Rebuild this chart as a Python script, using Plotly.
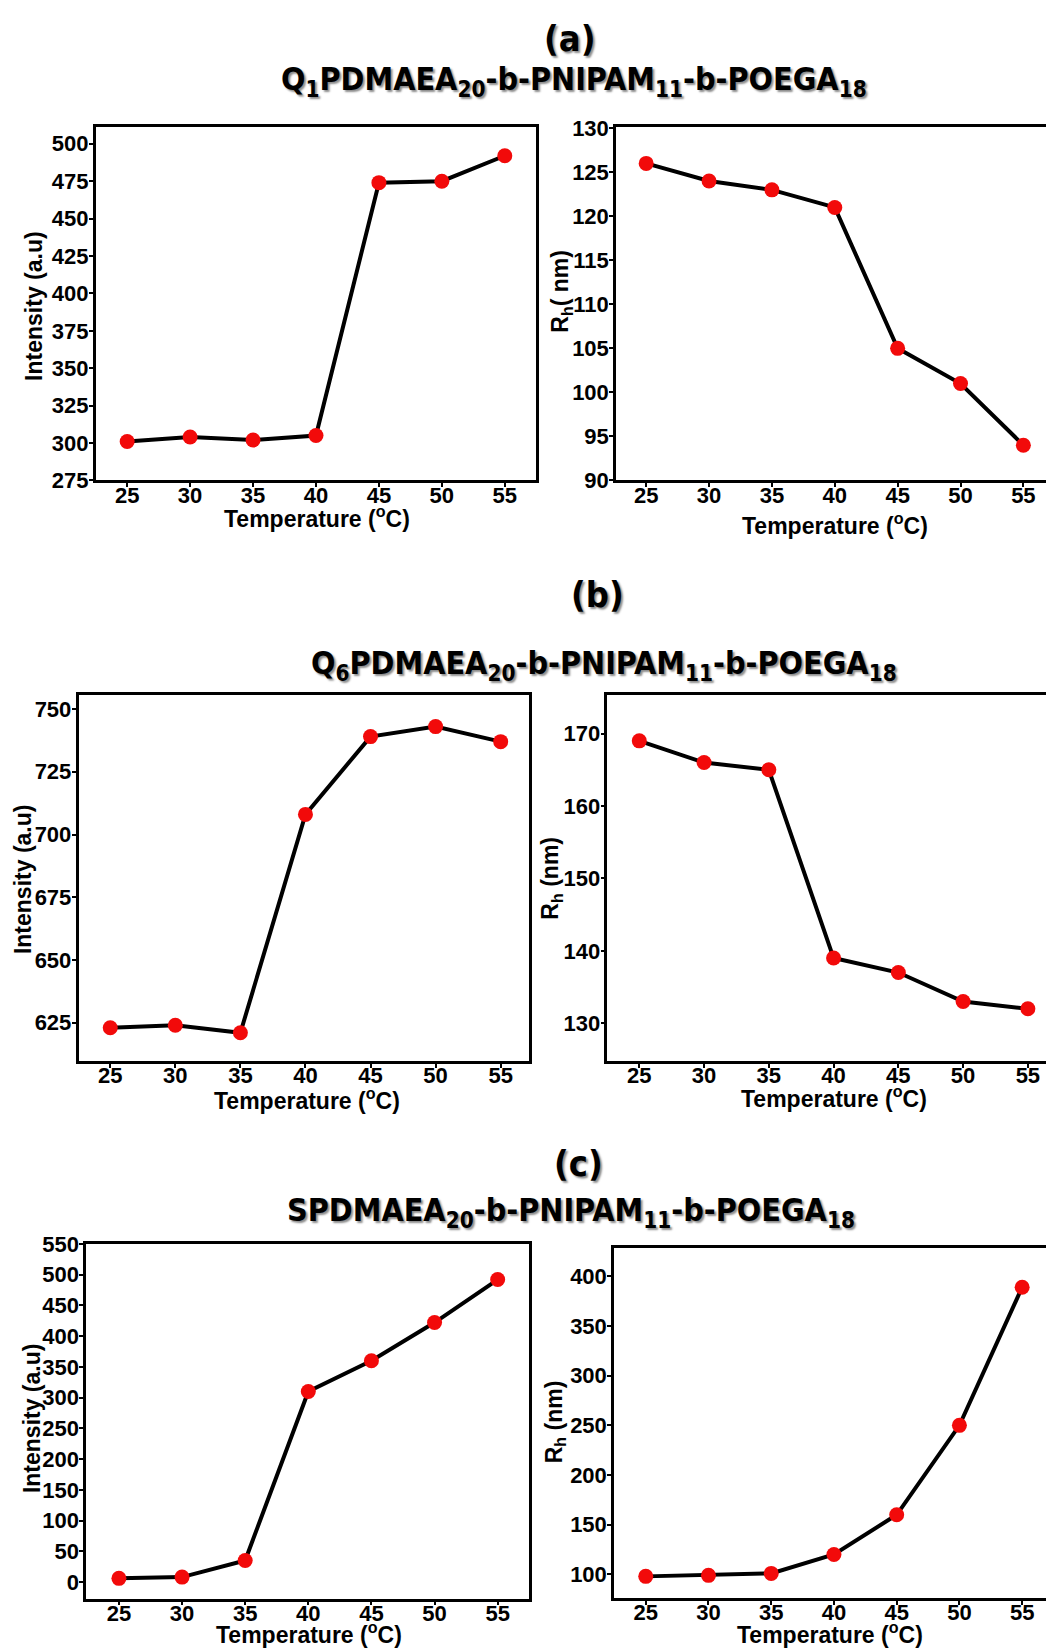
import plotly.graph_objects as go

temperature = [25, 30, 35, 40, 45, 50, 55]

q1_intensity = [301, 304, 302, 305, 474, 475, 492]
q1_rh = [126, 124, 123, 121, 105, 101, 94]
q6_intensity = [623, 624, 621, 708, 739, 743, 737]
q6_rh = [169, 166, 165, 139, 137, 133, 132]
s_intensity = [6, 8, 35, 310, 360, 422, 492]
s_rh = [98, 99, 101, 120, 160, 250, 389]

panel_letters = ["(a)", "(b)", "(c)"]
panel_titles = [
    "Q<sub>1</sub>PDMAEA<sub>20</sub>-b-PNIPAM<sub>11</sub>-b-POEGA<sub>18</sub>",
    "Q<sub>6</sub>PDMAEA<sub>20</sub>-b-PNIPAM<sub>11</sub>-b-POEGA<sub>18</sub>",
    "SPDMAEA<sub>20</sub>-b-PNIPAM<sub>11</sub>-b-POEGA<sub>18</sub>",
]
x_title = "Temperature (<sup>o</sup>C)"
y_titles = ["Intensity (a.u)", "R<sub>h</sub>( nm)", "Intensity (a.u)", "R<sub>h</sub> (nm)",
            "Intensity (a.u)", "R<sub>h</sub> (nm)"]

W, H = 1046, 1652

def px(x):
    return x / W

def py(y):
    return 1 - y / H

series = [q1_intensity, q1_rh, q6_intensity, q6_rh, s_intensity, s_rh]
# plot box in pixels: left, top, right, bottom
boxes = [
    (95.7, 117.1, 535.5, 475.6),
    (616, 117.1, 1046, 475.6),
    (78.5, 693.7, 529.3, 1065.0),
    (607.3, 693.7, 1046, 1065.0),
    (86.1, 1250.8, 528.6, 1611.0),
    (614, 1255.2, 1046, 1610.3),
]
xranges = [[22.5, 57.44], [22.6, 56.8], [22.56, 57.2], [22.53, 56.4], [22.4, 57.45], [22.47, 56.9]]
yranges = [[275, 511], [90, 130.1], [609.8, 755.5], [124.8, 175.3], [-27, 550], [76.3, 428.3]]
ytickvals = [
    list(range(275, 501, 25)),
    list(range(90, 131, 5)),
    list(range(625, 751, 25)),
    list(range(130, 171, 10)),
    list(range(0, 551, 50)),
    list(range(100, 401, 50)),
]
ytitle_pos = [(34.4, 298), (562, 284), (22.4, 880), (552, 880), (32.7, 1428), (555, 1432)]
xtitle_pos = [(316.8, 512.5), (835, 519.5), (306.5, 1104), (834, 1102), (309, 1646), (830, 1646)]

tick_font = dict(family="Liberation Sans, Arial, sans-serif", size=22, color="black", weight="bold")
title_font = dict(family="Liberation Sans, Arial, sans-serif", size=23, color="black", weight="bold")

fig = go.Figure()
layout = {}
annotations = []
for i, ys in enumerate(series):
    n = "" if i == 0 else str(i + 1)
    fig.add_trace(go.Scatter(
        x=temperature, y=ys, mode="lines+markers",
        line=dict(color="black", width=4),
        marker=dict(color="#f20a0a", size=15, line=dict(width=0)),
        xaxis="x" + n, yaxis="y" + n, showlegend=False,
    ))
    l, t, r, b = boxes[i]
    right_panel = (i % 2 == 1)
    layout["xaxis" + n] = dict(
        domain=[px(l), min(px(r), 1.0)], range=xranges[i], anchor="y" + n,
        tickvals=temperature, showline=True, linewidth=2.5, linecolor="black",
        mirror=True, ticks="outside", ticklen=4, tickwidth=2, tickcolor="black",
        ticklabelstandoff=-11,
        showgrid=False, zeroline=False, tickfont=tick_font, fixedrange=True,
    )
    layout["yaxis" + n] = dict(
        domain=[py(b), py(t)], range=yranges[i], anchor="x" + n,
        tickvals=ytickvals[i], showline=True, linewidth=2.5, linecolor="black",
        mirror=not right_panel, ticks="outside", ticklen=4, tickwidth=2, tickcolor="black",
        ticklabelstandoff=-4,
        showgrid=False, zeroline=False, tickfont=tick_font, fixedrange=True,
    )
    yx, yy = ytitle_pos[i]
    annotations.append(dict(text=y_titles[i], x=px(yx), y=py(yy), xref="paper", yref="paper",
                            showarrow=False, textangle=-90, font=title_font,
                            xanchor="center", yanchor="middle"))
    xx, xy = xtitle_pos[i]
    annotations.append(dict(text=x_title, x=px(xx), y=py(xy), xref="paper", yref="paper",
                            showarrow=False, font=title_font, xanchor="center", yanchor="middle"))

head_font = dict(family="DejaVu Sans Condensed, DejaVu Sans, Verdana, sans-serif", size=32,
                 color="black", weight="bold", shadow="2px 2px 2px rgba(0,0,0,0.45)")
letter_pos = [(569, 26.4), (597, 591.8), (578, 1169.3)]
title_pos = [(574, 70.4), (604, 663), (571, 1218.4)]
for k in range(3):
    lx, ly = letter_pos[k]
    annotations.append(dict(text=panel_letters[k], x=px(lx), y=py(ly), xref="paper", yref="paper",
                            showarrow=False, font=dict(head_font, size=36),
                            xanchor="center", yanchor="middle"))
    tx, ty = title_pos[k]
    annotations.append(dict(text=panel_titles[k], x=px(tx), y=py(ty), xref="paper", yref="paper",
                            showarrow=False, font=head_font, xanchor="center", yanchor="middle"))

fig.update_layout(
    width=W, height=H, margin=dict(l=0, r=0, t=0, b=0),
    paper_bgcolor="white", plot_bgcolor="white",
    annotations=annotations, **layout,
)
fig.write_html("out.html", config={"displayModeBar": False})
